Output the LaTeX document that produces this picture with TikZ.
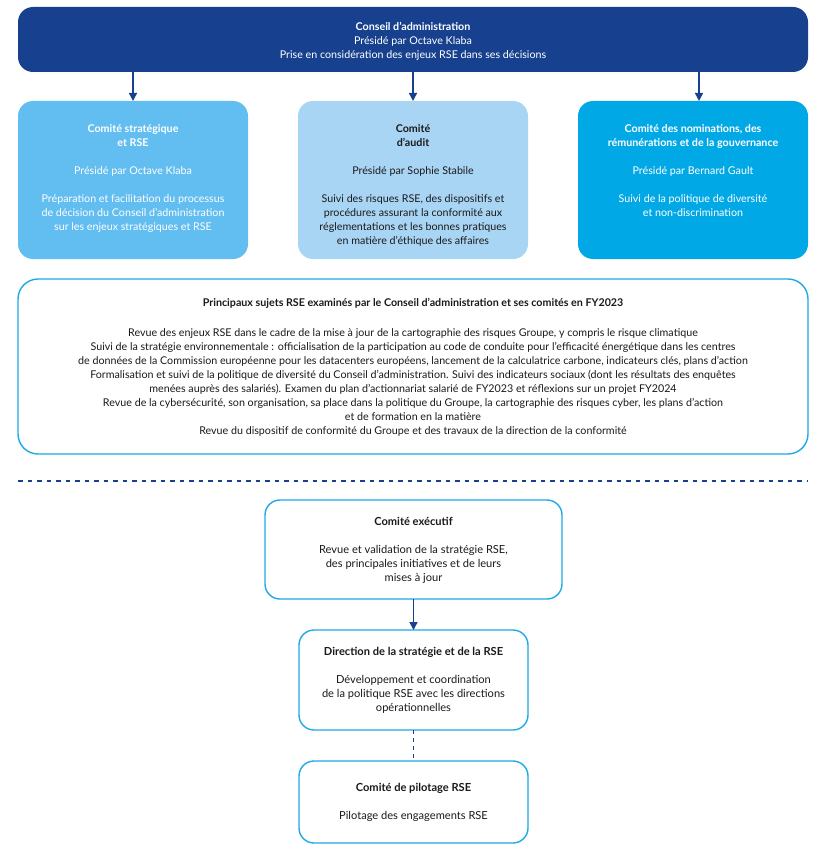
\documentclass[tikz,border=0pt]{standalone}
\usepackage{fontspec}
\setmainfont{Lato}
\usetikzlibrary{arrows.meta}
\definecolor{navy}{HTML}{17418F}
\definecolor{boxA}{HTML}{62BDF0}
\definecolor{boxB}{HTML}{A9D5F5}
\definecolor{boxC}{HTML}{00A9E6}
\definecolor{cyanline}{HTML}{1EAAE7}
\definecolor{txt}{HTML}{1A1A1A}
\begin{document}
\begin{tikzpicture}[x=1pt,y=-1pt,
  every node/.style={inner sep=0pt, outer sep=0pt},
  fillbox/.style={rectangle, rounded corners=15pt, draw=none},
  linebox/.style={rectangle, rounded corners=15pt, draw=cyanline, line width=1.4pt, fill=white},
  lbl/.style={anchor=north, align=center, font=\fontsize{10.7}{14}\selectfont},
  lblb/.style={anchor=north, align=center, font=\fontsize{11.1}{14}\selectfont},
  arr/.style={draw=navy, line width=1.4pt, -{Triangle[width=8pt,length=8pt]}},
  dsh/.style={draw=navy, line width=1.4pt, dash pattern=on 4.5pt off 5pt}
]
\useasboundingbox (0,0) rectangle (826,856);

% top box
\node[fillbox, fill=navy, minimum width=790pt, minimum height=65pt] (top) at (413,39.5) {};
\node[lbl, text=white] (toptxt) at (413,22.5) {{\bfseries Conseil d’administration}\\Présidé par Octave Klaba\\Prise en considération des enjeux RSE dans ses décisions};

% committees
\node[fillbox, fill=boxA, minimum width=230pt, minimum height=158pt] (b1) at (133,180) {};
\node[fillbox, fill=boxB, minimum width=230pt, minimum height=158pt] (b2) at (413,180) {};
\node[fillbox, fill=boxC, minimum width=230pt, minimum height=158pt] (b3) at (693,180) {};

\node[lbl, text=white] (t1) at (133,124.5) {{\bfseries Comité stratégique}\\{\bfseries et RSE}\\[14pt]Présidé par Octave Klaba\\[14pt]Préparation et facilitation du processus\\de décision du Conseil d’administration\\sur les enjeux stratégiques et RSE};
\node[lbl, text=txt] (t2) at (413,124.5) {{\bfseries Comité}\\{\bfseries d’audit}\\[14pt]Présidé par Sophie Stabile\\[14pt]Suivi des risques RSE, des dispositifs et\\procédures assurant la conformité aux\\réglementations et les bonnes pratiques\\en matière d’éthique des affaires};
\node[lbl, text=white] (t3) at (693,124.5) {{\bfseries Comité des nominations, des}\\{\bfseries rémunérations et de la gouvernance}\\[14pt]Présidé par Bernard Gault\\[14pt]Suivi de la politique de diversité\\et non-discrimination};

\draw[arr] (top.south -| b1.north) -- (b1.north);
\draw[arr] (top.south -| b2.north) -- (b2.north);
\coordinate (c3) at (699,0);
\draw[arr] (top.south -| c3) -- (b3.north -| c3);

% wide box
\node[linebox, rounded corners=20pt, minimum width=790pt, minimum height=175pt] (wide) at (413,366.5) {};
\node[lbl, text=txt] (wt) at (413,298) {{\bfseries Principaux sujets RSE examinés par le Conseil d’administration et ses comités en FY2023}\\[16pt]
Revue des enjeux RSE dans le cadre de la mise à jour de la cartographie des risques Groupe, y compris le risque climatique\\
Suivi de la stratégie environnementale : officialisation de la participation au code de conduite pour l’efficacité énergétique dans les centres\\
de données de la Commission européenne pour les datacenters européens, lancement de la calculatrice carbone, indicateurs clés, plans d’action\\
Formalisation et suivi de la politique de diversité du Conseil d’administration. Suivi des indicateurs sociaux (dont les résultats des enquêtes\\
menées auprès des salariés). Examen du plan d’actionnariat salarié de FY2023 et réflexions sur un projet FY2024\\
Revue de la cybersécurité, son organisation, sa place dans la politique du Groupe, la cartographie des risques cyber, les plans d’action\\
et de formation en la matière\\
Revue du dispositif de conformité du Groupe et des travaux de la direction de la conformité};

% separator
\coordinate (sepL) at (18,481);
\coordinate (sepR) at (808,481);
\draw[dsh] (sepL) -- (sepR);

% bottom chain
\node[linebox, minimum width=297pt, minimum height=99pt] (exe) at (413.5,549.5) {};
\node[lblb, text=txt] (exet) at (413.5,517.5) {{\bfseries Comité exécutif}\\[14pt]Revue et validation de la stratégie RSE,\\des principales initiatives et de leurs\\mises à jour};

\node[linebox, minimum width=229pt, minimum height=100pt] (dir) at (413.5,680) {};
\node[lblb, text=txt] (dirt) at (413.5,647.5) {{\bfseries Direction de la stratégie et de la RSE}\\[14pt]Développement et coordination\\de la politique RSE avec les directions\\opérationnelles};

\node[linebox, minimum width=229pt, minimum height=82pt] (pil) at (413.5,802) {};
\node[lblb, text=txt] (pilt) at (413.5,783.5) {{\bfseries Comité de pilotage RSE}\\[14pt]Pilotage des engagements RSE};

\draw[arr] (exe.south) -- (dir.north);
\draw[dsh, dash pattern=on 4pt off 4pt] (dir.south) -- (pil.north);
\end{tikzpicture}
\end{document}
